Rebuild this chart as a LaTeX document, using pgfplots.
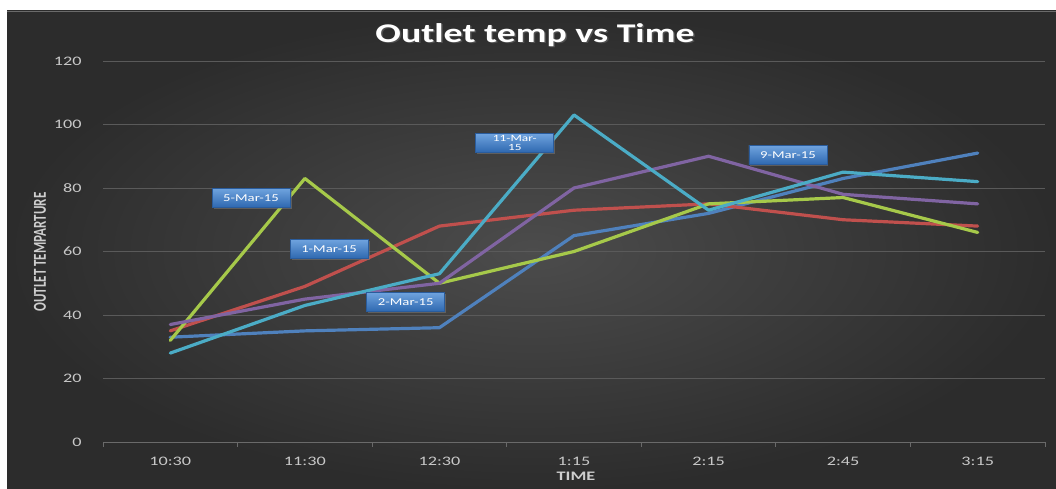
\documentclass[border=0pt]{standalone}
\usepackage{fontspec}
\setmainfont{Carlito}[FakeStretch=1.4]
\newfontfamily\plainfont{Carlito}
\usepackage{graphicx}
\usepackage{pgfplots}
\pgfplotsset{compat=1.18}
\usetikzlibrary{shadows}
\definecolor{bgin}{HTML}{4C4C4C}
\definecolor{bgout}{HTML}{2C2C2C}
\definecolor{gridc}{HTML}{5A5A5A}
\definecolor{axc}{HTML}{6A6A6A}
\definecolor{ticklbl}{HTML}{C8C8C8}
\definecolor{sblue}{HTML}{4F81BD}
\definecolor{sred}{HTML}{C0504D}
\definecolor{sgreen}{HTML}{A6C94A}
\definecolor{spurple}{HTML}{8064A2}
\definecolor{scyan}{HTML}{4BACC6}
\definecolor{ctop}{HTML}{6FA3DE}
\definecolor{cbot}{HTML}{2E68B0}
\definecolor{cbd}{HTML}{2A5C9C}
\tikzset{callout/.style={draw=cbd, line width=0.6pt, top color=ctop, bottom color=cbot,
    minimum width=78pt, minimum height=19pt, inner sep=1pt, text=white,
    align=center, drop shadow={opacity=0.5, shadow xshift=1.5pt, shadow yshift=-1.5pt},
    font=\fontsize{10.5}{11}\selectfont}}
\begin{document}
\begin{tikzpicture}[x=1pt,y=1pt]
\fill[white] (0,0) rectangle (1056,489);
\fill[bgout] (7,-2) rectangle (1058,478);
\shade[inner color=bgin, outer color=bgout] (7,-2) rectangle (1058,478);
\draw[axc, line width=0.8pt] (7,478) -- (1056,478);
\begin{axis}[
  at={(103pt,47pt)}, anchor=south west,
  scale only axis, width=942pt, height=381pt,
  xmin=-0.5, xmax=6.5, ymin=0, ymax=120,
  clip=false,
  axis x line*=bottom, axis y line*=left,
  axis line style={-},
  x axis line style={draw=axc, line width=0.8pt},
  y axis line style={draw=none},
  xtick={0,...,6},
  xticklabels={10:30,11:30,12:30,1:15,2:15,2:45,3:15},
  major x tick style={draw=none},
  minor xtick={-0.5,0.5,...,6.5},
  minor x tick style={draw=axc, line width=0.8pt},
  minor tick length=5pt,
  tick align=outside,
  ytick={0,20,...,120},
  major y tick style={draw=none},
  ymajorgrids,
  grid style={draw=gridc, line width=0.8pt},
  /pgf/number format/assume math mode=true,
  tick label style={font=\fontsize{13}{15}\selectfont, text=ticklbl},
  xticklabel style={anchor=north, inner sep=0pt, yshift=-11pt},
  yticklabel style={anchor=east, inner sep=0pt, xshift=-17pt},
  every axis plot/.style={line width=3.2pt, line join=round, line cap=round},
]
\addplot[sblue] coordinates {(0,33) (1,35) (2,36) (3,65) (4,72) (5,83) (6,91)};
\addplot[sred] coordinates {(0,35) (1,49) (2,68) (3,73) (4,75) (5,70) (6,68)};
\addplot[sgreen] coordinates {(0,32) (1,83) (2,50) (3,60) (4,75) (5,77) (6,66)};
\addplot[spurple] coordinates {(0,37) (1,45) (2,50) (3,80) (4,90) (5,78) (6,75)};
\addplot[scyan] coordinates {(0,28) (1,43) (2,53) (3,103) (4,73) (5,85) (6,82)};
\node[callout] at (axis cs:0.60,76.9) {5-Mar-15};
\node[callout] at (axis cs:1.18,60.8) {1-Mar-15};
\node[callout] at (axis cs:1.75,44.1) {2-Mar-15};
\node[callout, font=\fontsize{9.5}{8.5}\selectfont] at (axis cs:2.56,94.2) {11-Mar-\\15};
\node[callout] at (axis cs:4.59,90.4) {9-Mar-15};
\end{axis}
\node[text=black!60, opacity=0.6, font=\fontsize{27}{30}\selectfont\bfseries] at (536.5,452.5) {Outlet temp vs Time};
\node[text=white, font=\fontsize{27}{30}\selectfont\bfseries] at (535,454) {Outlet temp vs Time};
\node[text=ticklbl!90!white, font=\fontsize{13}{15}\selectfont\bfseries] at (576,13) {TIME};
\node[text=ticklbl!90!white] at (40,237) {\scalebox{1.4}[1]{\rotatebox{90}{\plainfont\fontsize{13}{14}\selectfont\bfseries OUTLET TEMPARTURE}}};
\pgfresetboundingbox
\path[use as bounding box] (0,0) rectangle (1056,489);
\end{tikzpicture}
\end{document}
